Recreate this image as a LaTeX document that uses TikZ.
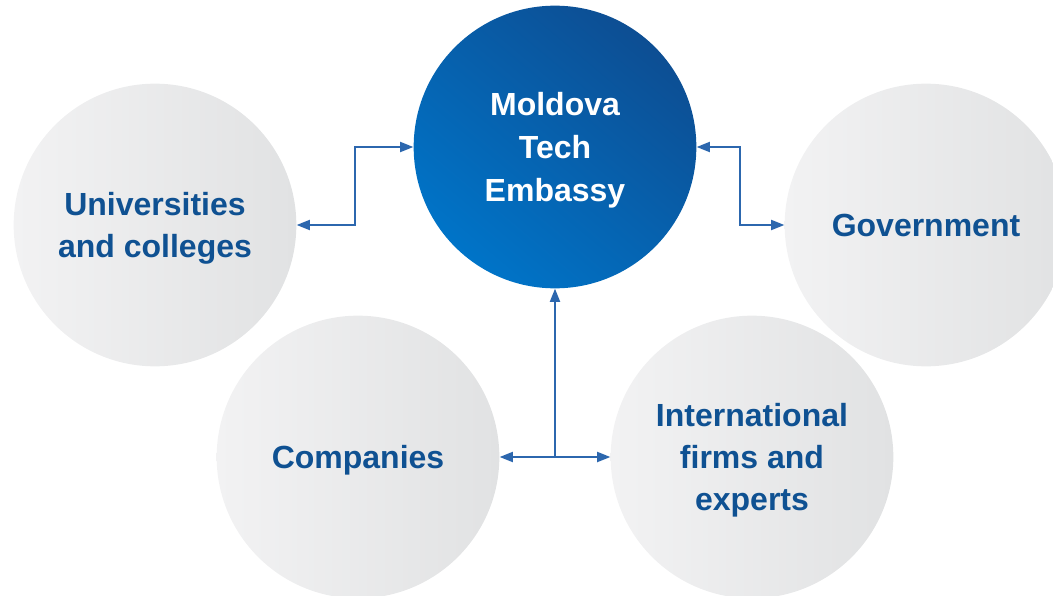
\documentclass[tikz,border=0pt]{standalone}
\usepackage{fontspec}
\setmainfont{Liberation Sans}
\usetikzlibrary{arrows.meta}
\definecolor{txtblue}{HTML}{0F5192}
\definecolor{arrblue}{HTML}{2C67AE}
\definecolor{hubdark}{HTML}{0D4E93}
\definecolor{hublight}{HTML}{0074C8}
\definecolor{greyL}{HTML}{F2F2F3}
\definecolor{greyR}{HTML}{E1E2E3}
\tikzset{
  greycirc/.style={circle, inner sep=0pt, minimum size=212pt,
    left color=greyL, right color=greyR, shading angle=90,
    text=txtblue, align=center, text depth=0pt,
    font=\fontsize{24}{31.5}\selectfont\bfseries},
  hubcirc/.style={circle, inner sep=0pt, minimum size=212pt,
    shading=axis, top color=hubdark, bottom color=hublight, shading angle=-40,
    text=white, align=center, text depth=0pt,
    font=\fontsize{24}{32}\selectfont\bfseries},
  conn/.style={draw=arrblue, line width=1.6pt,
    arrows={-Triangle[length=10pt,width=7.5pt]}},
  biconn/.style={draw=arrblue, line width=1.6pt,
    arrows={Triangle[length=10pt,width=7.5pt]-Triangle[length=10pt,width=7.5pt]}}
}
\begin{document}
\begin{tikzpicture}[x=0.75pt,y=-0.75pt]
\useasboundingbox (0,0) rectangle (1053,596);
\clip (0,0) rectangle (1053,596);
\node[greycirc] (uni) at (155,225) {Universities\\and colleges};
\node[greycirc] (gov) at (926,225) {Government};
\node[greycirc] (comp) at (358,457) {Companies};
\node[greycirc] (intl) at (752,457) {International\\firms and\\experts};
\node[hubcirc] (main) at (555,147) {Moldova\\Tech\\Embassy};
\coordinate (hub) at (555,457);
\draw[biconn] (uni.east) -- ++(58,0) |- (main.west);
\draw[biconn] (main.east) -- ++(43,0) |- (gov.west);
\draw[biconn] (comp.east) -- (intl.west);
\draw[conn] (hub) -- (main.south);
\end{tikzpicture}
\end{document}
